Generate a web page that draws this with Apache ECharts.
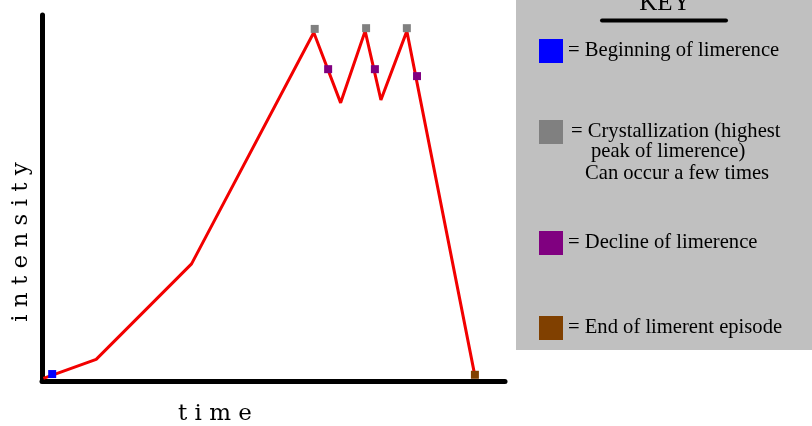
<!DOCTYPE html>
<html>
<head>
<meta charset="utf-8">
<script src="https://cdn.jsdelivr.net/npm/echarts@6/dist/echarts.min.js"></script>
<style>
html,body{margin:0;padding:0;background:#fff;}
#c{width:812px;height:426px;}
</style>
</head>
<body>
<div id="c"></div>
<script>
// Curve of limerence intensity over time (time 0-100, intensity 0-100)
var curveTime      = [0.3, 11.7, 32.3, 58.7, 64.5, 69.8, 73.2, 78.8, 93.5];
var curveIntensity = [0.7, 5.9, 32.0, 95.2, 76.0, 95.6, 76.8, 95.6, 1.4];

// Marker points
var beginTime = [2.2],              beginIntensity = [1.9];
var crystTime = [58.9, 70.0, 78.8], crystIntensity = [96.2, 96.4, 96.4];
var declineTime = [61.8, 71.9, 81.0], declineIntensity = [85.2, 85.2, 83.3];
var endTime = [93.5],               endIntensity = [1.7];

var seriesNames = ['Beginning of limerence', 'Crystallization (highest', 'Decline of limerence', 'End of limerent episode'];
var keyExtraLines = ['peak of limerence)', 'Can occur a few times'];
var xAxisName = 't i m e';
var yAxisName = 'i n t e n s i t y';
var keyTitle = 'KEY';

function pairs(xs, ys) { return xs.map(function (x, i) { return [x, ys[i]]; }); }

var chart = echarts.init(document.getElementById('c'));
var keyFont = 'Liberation Serif';
function legendAt(name, top, padLeft) {
  return {
    data: [name], left: 539, top: top, orient: 'horizontal', padding: 0,
    icon: 'rect', itemWidth: 24, itemHeight: 24, selectedMode: false,
    formatter: function (n) { return '= ' + n; },
    textStyle: { fontFamily: keyFont, fontSize: 20.6, color: '#000', padding: [0, 0, 0, padLeft || 0] }
  };
}
var markerCommon = { type: 'scatter', symbol: 'rect', symbolSize: 8, z: 5 };
function markerStyle(c) { return { color: c, opacity: 1 }; }

chart.setOption({
  animation: false,
  backgroundColor: '#fff',
  grid: { left: 42, top: 15, width: 463, height: 366 },
  xAxis: {
    type: 'value', min: 0, max: 100,
    axisLine: { show: true, lineStyle: { color: '#000', width: 5, cap: 'round' } },
    axisTick: { show: false }, axisLabel: { show: false }, splitLine: { show: false }
  },
  yAxis: {
    type: 'value', min: 0, max: 100,
    axisLine: { show: true, lineStyle: { color: '#000', width: 5, cap: 'round' } },
    axisTick: { show: false }, axisLabel: { show: false }, splitLine: { show: false }
  },
  legend: [
    legendAt(seriesNames[0], 39),
    legendAt(seriesNames[1], 120, 3),
    legendAt(seriesNames[2], 231),
    legendAt(seriesNames[3], 316)
  ],
  graphic: [
    { type: 'rect', left: 516, top: 0, z: -10, silent: true,
      shape: { width: 296, height: 350 }, style: { fill: '#c0c0c0' } },
    { type: 'text', x: 665, y: 16, z: 10,
      style: { text: keyTitle, fontFamily: keyFont, fontSize: 25, fill: '#000', align: 'center', verticalAlign: 'bottom' } },
    { type: 'line', z: 10, shape: { x1: 602, y1: 20.5, x2: 726, y2: 20.5 },
      style: { stroke: '#000', lineWidth: 4, lineCap: 'round' } },
    { type: 'text', x: 591, y: 152, z: 10,
      style: { text: keyExtraLines[0], fontFamily: keyFont, fontSize: 20.6, fill: '#000', align: 'left', verticalAlign: 'middle' } },
    { type: 'text', x: 585, y: 174, z: 10,
      style: { text: keyExtraLines[1], fontFamily: keyFont, fontSize: 20.6, fill: '#000', align: 'left', verticalAlign: 'middle' } },
    { type: 'text', x: 215, y: 414, z: 10,
      style: { text: xAxisName, fontFamily: 'DejaVu Serif', fontSize: 23, fill: '#000', align: 'center', verticalAlign: 'middle' } },
    { type: 'text', x: 21, y: 242, rotation: Math.PI / 2, z: 10,
      style: { text: yAxisName, fontFamily: 'DejaVu Serif', fontSize: 23, fill: '#000', align: 'center', verticalAlign: 'middle' } }
  ],
  series: [
    { type: 'line', name: 'intensity', data: pairs(curveTime, curveIntensity),
      showSymbol: false, symbol: 'none', z: 2,
      lineStyle: { color: '#f20000', width: 3 } },
    Object.assign({ name: seriesNames[0], data: pairs(beginTime, beginIntensity), itemStyle: markerStyle('#0000ff') }, markerCommon),
    Object.assign({ name: seriesNames[1], data: pairs(crystTime, crystIntensity), itemStyle: markerStyle('#808080') }, markerCommon),
    Object.assign({ name: seriesNames[2], data: pairs(declineTime, declineIntensity), itemStyle: markerStyle('#800080') }, markerCommon),
    Object.assign({ name: seriesNames[3], data: pairs(endTime, endIntensity), itemStyle: markerStyle('#804000') }, markerCommon)
  ]
});
</script>
</body>
</html>
